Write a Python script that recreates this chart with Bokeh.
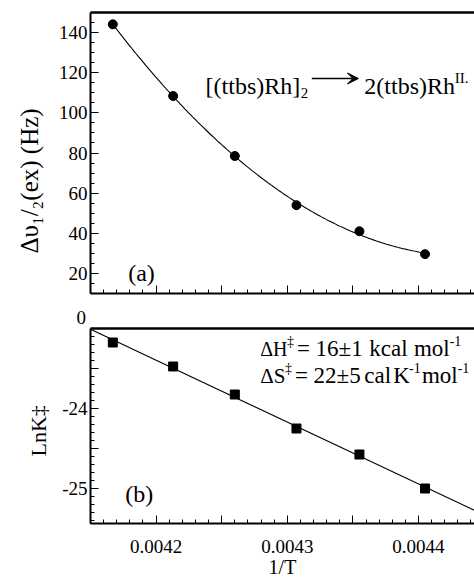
import numpy as np
from bokeh.plotting import figure
from bokeh.layouts import column
from bokeh.models import FixedTicker, LinearAxis, Label, Arrow, VeeHead, Range1d, Title
from bokeh.embed import file_html
from bokeh.resources import INLINE

# ---------------- data ----------------
inv_T = [0.004167, 0.004213, 0.004260, 0.004307, 0.004355, 0.004405]
dnu_hz = [144.1, 108.4, 78.5, 54.0, 41.0, 29.6]
ln_k = [-23.175, -23.475, -23.825, -24.25, -24.575, -25.0]

x_major = [0.00415, 0.0042, 0.00425, 0.0043, 0.00435, 0.0044]
x_labels = {0.0042: "0.0042", 0.0043: "0.0043", 0.0044: "0.0044"}
top_y_major = [20, 40, 60, 80, 100, 120, 140]
bot_y_major = [-25.0, -24.5, -24.0, -23.5]
bot_y_labels = {-25.0: "-25", -24.0: "-24"}

FONT = "Liberation Serif"
X0, X1 = 0.00415, 0.0044427
x_minor = list(np.round(np.arange(0.00415, 0.00445, 0.00001), 6))
top_y_minor = list(range(15, 150, 5))
bot_y_minor = list(np.round(np.arange(-25.4, -23.0, 0.1), 2))

# page-pixel -> data helpers for annotation placement
def tx(px):
    return X0 + (px - 87) / 387 * (X1 - X0)

def ty(py):
    return 150 - (py - 12) / 281 * 140

def by(py):
    return -23.0 - (py - 328) / 195 * 2.4375


def style_axis(ax, tick_font="19px"):
    ax.axis_line_width = 2
    ax.axis_line_color = "black"
    ax.major_tick_in = 8
    ax.major_tick_out = 0
    ax.minor_tick_in = 4
    ax.minor_tick_out = 0
    ax.major_tick_line_color = "black"
    ax.minor_tick_line_color = "black"
    ax.major_tick_line_width = 1
    ax.minor_tick_line_width = 1
    ax.major_label_text_font = FONT
    ax.major_label_text_font_size = tick_font
    ax.major_label_text_color = "black"


def add_top_border(p):
    top = LinearAxis(ticker=FixedTicker(ticks=[]))
    top.axis_line_width = 2.5
    top.axis_line_color = "black"
    top.major_tick_out = 0
    top.major_tick_in = 0
    top.minor_tick_out = 0
    top.minor_tick_in = 0
    top.major_label_standoff = 0
    top.axis_label_standoff = 0
    p.add_layout(top, "above")


def style_title(t, text, size, offset, standoff, valign, align="left"):
    t.text = text
    t.align = align
    t.offset = offset
    t.standoff = standoff
    t.vertical_align = valign
    t.text_font = FONT
    t.text_font_size = size
    t.text_font_style = "normal"
    t.text_color = "black"


def side_title(p, text, side, size, offset, standoff, valign, align="left"):
    t = Title()
    style_title(t, text, size, offset, standoff, valign, align)
    p.add_layout(t, side)


def lab(p, x, y, text, size="24px", align="left"):
    p.add_layout(Label(x=x, y=y, text=text, text_font=FONT, text_font_size=size,
                       text_color="black", text_align=align,
                       text_baseline="alphabetic"))


# ---------------- top panel (a) ----------------
p1 = figure(width=474, height=300, output_backend="svg", toolbar_location=None,
            x_range=Range1d(X0, X1), y_range=Range1d(10, 150),
            min_border_left=87, min_border_right=0, min_border_top=12, min_border_bottom=7)
p1.outline_line_color = None
p1.xgrid.visible = False
p1.ygrid.visible = False
p1.background_fill_color = "white"

xa = p1.xaxis[0]
xa.ticker = FixedTicker(ticks=x_major, minor_ticks=x_minor)
xa.major_label_overrides = {t: "" for t in x_major}
style_axis(xa, tick_font="1px")
xa.major_label_standoff = 0
ya = p1.yaxis[0]
ya.ticker = FixedTicker(ticks=top_y_major, minor_ticks=top_y_minor)
style_axis(ya)
ya.major_label_standoff = 3
add_top_border(p1)

side_title(p1, "Δυ₁/₂(ex) (Hz)", "left", "25px", offset=40, standoff=26, valign="bottom")

xs = np.linspace(min(inv_T), max(inv_T), 200)
coef = np.polyfit(inv_T, dnu_hz, 2)
p1.line(xs, np.polyval(coef, xs), line_color="black", line_width=1.1)
p1.scatter(inv_T, dnu_hz, marker="circle", size=9, fill_color="black", line_color="black")

lab(p1, tx(203), ty(85), "[(ttbs)Rh]")
lab(p1, tx(299), ty(92), "2", "15px")
p1.add_layout(Arrow(end=VeeHead(size=11, fill_color="black", line_color="black"),
                    x_start=tx(310), y_start=ty(78), x_end=tx(357), y_end=ty(78),
                    line_width=1.3, line_color="black"))
lab(p1, tx(363), ty(85), "2(ttbs)Rh")
lab(p1, tx(454), ty(77), "II.", "15px")
lab(p1, tx(125), ty(272), "(a)")

# ---------------- bottom panel (b) ----------------
p2 = figure(width=474, height=284, output_backend="svg", toolbar_location=None,
            x_range=Range1d(X0, X1), y_range=Range1d(-25.4375, -23.0),
            min_border_left=87, min_border_right=0, min_border_top=28, min_border_bottom=61)
p2.outline_line_color = None
p2.xgrid.visible = False
p2.ygrid.visible = False
p2.background_fill_color = "white"
# the stray "0" between the panels
style_title(p2.title, "0", "19px", offset=-14, standoff=6, valign="top")

xb = p2.xaxis[0]
xb.ticker = FixedTicker(ticks=x_major, minor_ticks=x_minor)
xb.major_label_overrides = {t: x_labels.get(t, "") for t in x_major}
style_axis(xb)
xb.major_label_standoff = 16
xb.axis_label = "1/T"
xb.axis_label_text_font = FONT
xb.axis_label_text_font_size = "20px"
xb.axis_label_text_font_style = "normal"
xb.axis_label_text_color = "black"
xb.axis_label_standoff = 0
yb = p2.yaxis[0]
yb.ticker = FixedTicker(ticks=bot_y_major, minor_ticks=bot_y_minor)
yb.major_label_overrides = {t: bot_y_labels.get(t, "") for t in bot_y_major}
style_axis(yb)
yb.major_label_standoff = 3
add_top_border(p2)

side_title(p2, "LnK‡", "left", "22px", offset=67, standoff=17, valign="bottom")

lcoef = np.polyfit(inv_T, ln_k, 1)
xl = np.array([X0, X1])
p2.line(xl, np.polyval(lcoef, xl), line_color="black", line_width=1.1)
p2.scatter(inv_T, ln_k, marker="square", size=9, fill_color="black", line_color="black")

lab(p2, tx(258), by(348), "ΔH", "20px")
lab(p2, tx(285), by(341), "‡", "14px")
lab(p2, tx(295), by(348), "= 16±1", "23px")
lab(p2, tx(368), by(348), "kcal", "23px")
lab(p2, tx(413), by(348), "mol", "23px")
lab(p2, tx(449), by(340), "-1", "14px")
lab(p2, tx(258), by(375), "ΔS", "21px")
lab(p2, tx(283), by(368), "‡", "14px")
lab(p2, tx(293), by(375), "= 22±5", "23px")
lab(p2, tx(363), by(375), "cal", "23px")
lab(p2, tx(392), by(375), "K", "23px")
lab(p2, tx(408), by(367), "-1", "14px")
lab(p2, tx(421), by(375), "mol", "23px")
lab(p2, tx(457), by(367), "-1", "14px")
lab(p2, tx(122), by(493), "(b)")

layout = column(p1, p2)
open("out.html", "w").write(file_html(layout, INLINE))
